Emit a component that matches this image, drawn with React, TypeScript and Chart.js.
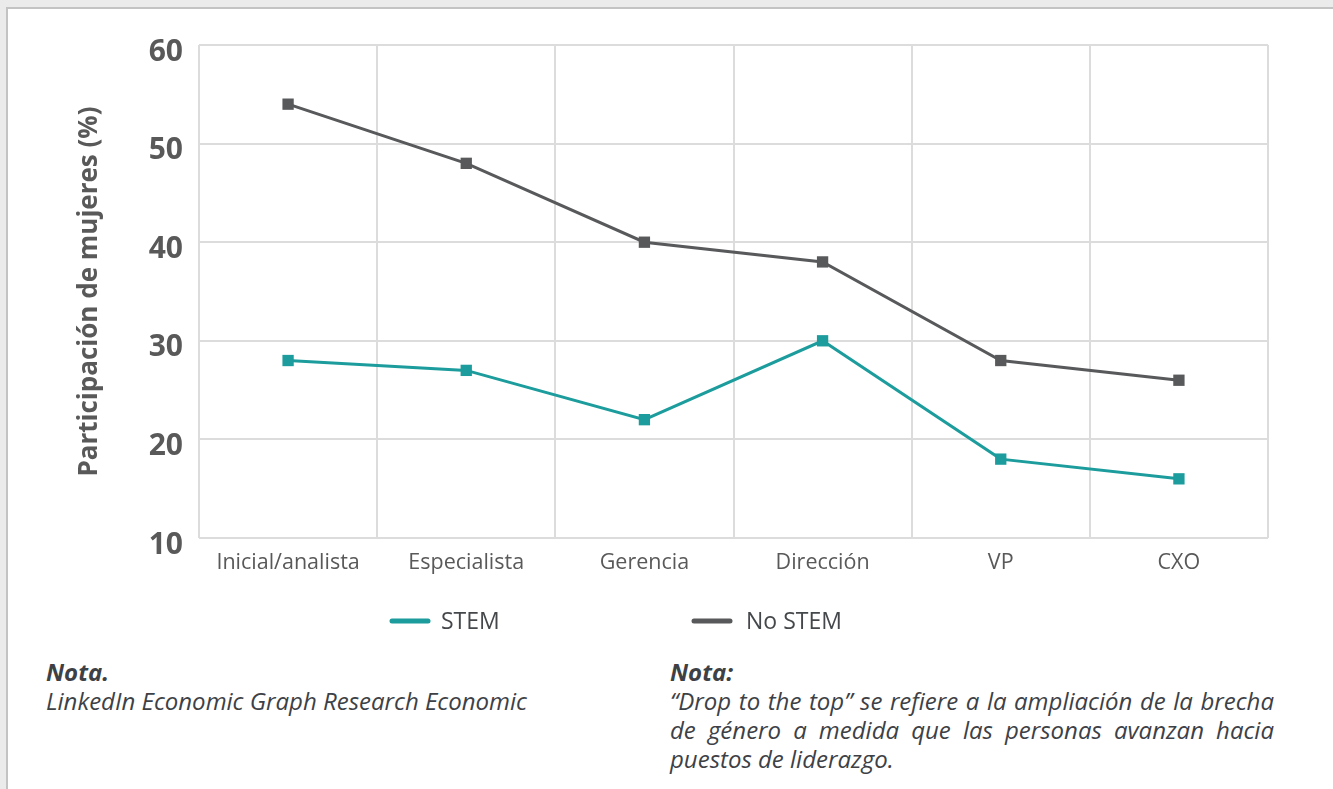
import React, { useEffect, useRef } from "react";
import { Chart, registerables } from "chart.js";

Chart.register(...registerables);

const categories = ["Inicial/analista", "Especialista", "Gerencia", "Dirección", "VP", "CXO"];
const stemValues = [28, 27, 22, 30, 18, 16];
const noStemValues = [54, 48, 40, 38, 28, 26];
const seriesLabels = ["STEM", "No STEM"];
const yTicks = [10, 20, 30, 40, 50, 60];
const yTitle = "Participación de mujeres (%)";

const TEAL = "#1c9c9c";
const GREY = "#58595b";
const FONT = "'Open Sans', 'Noto Sans', sans-serif";

const legendPlugin = {
  id: "customLegend",
  afterDraw(chart: any) {
    const ctx = chart.ctx;
    const y = chart.chartArea.bottom + 83;
    const positions = [390, 692];
    ctx.save();
    chart.data.datasets.forEach((ds: any, i: number) => {
      const x = positions[i];
      ctx.beginPath();
      ctx.lineCap = "round";
      ctx.lineWidth = 5;
      ctx.strokeStyle = ds.borderColor;
      ctx.moveTo(x + 2, y);
      ctx.lineTo(x + 38, y);
      ctx.stroke();
      ctx.font = `400 23px ${FONT}`;
      ctx.fillStyle = "#45484b";
      ctx.textBaseline = "middle";
      ctx.textAlign = "left";
      ctx.fillText(ds.label, x + 51 + (i === 1 ? 3 : 0), y + 1);
    });
    ctx.restore();
  },
};

function ChartCanvas() {
  const ref = useRef<HTMLCanvasElement>(null);
  useEffect(() => {
    if (!ref.current) return;
    const chart = new Chart(ref.current, {
      type: "line",
      data: {
        labels: categories,
        datasets: [
          {
            label: seriesLabels[0],
            data: stemValues,
            borderColor: TEAL,
            backgroundColor: TEAL,
            borderWidth: 3,
            pointStyle: "rect",
            pointRadius: 8,
            pointBorderWidth: 0,
            tension: 0,
          },
          {
            label: seriesLabels[1],
            data: noStemValues,
            borderColor: GREY,
            backgroundColor: GREY,
            borderWidth: 3,
            pointStyle: "rect",
            pointRadius: 8,
            pointBorderWidth: 0,
            tension: 0,
          },
        ],
      },
      options: {
        responsive: false,
        animation: false,
        devicePixelRatio: 1,
        layout: { padding: { left: 0, right: 65, top: 45, bottom: 72 } },
        plugins: {
          legend: { display: false },
          tooltip: { enabled: false },
        },
        scales: {
          x: {
            offset: true,
            grid: { offset: true, color: "#dcdcdc", lineWidth: 2, drawTicks: false },
            border: { display: false },
            ticks: {
              padding: 12,
              color: "#595959",
              font: { family: FONT, size: 21.5, weight: "400" },
            },
            afterFit: (s: any) => {
              s.height = 40;
            },
          },
          y: {
            min: 10,
            max: 60,
            afterBuildTicks: (s: any) => {
              s.ticks = yTicks.map((v) => ({ value: v }));
            },
            grid: { color: "#dcdcdc", lineWidth: 2, drawTicks: false },
            border: { display: false },
            ticks: {
              padding: 16,
              labelOffset: 7,
              color: "#595959",
              font: { family: FONT, size: 30, weight: "700" },
            },
            title: {
              display: true,
              text: yTitle,
              color: "#595959",
              font: { family: FONT, size: 26, weight: "700" },
              padding: { top: 74, bottom: 0 },
            },
            afterFit: (s: any) => {
              s.width = 199;
            },
          },
        },
      },
      plugins: [legendPlugin],
    } as any);
    return () => chart.destroy();
  }, []);
  return (
    <canvas
      ref={ref}
      width={1333}
      height={650}
      style={{ position: "absolute", left: 0, top: 0, width: 1333, height: 650 }}
    />
  );
}

export default function App() {
  const noteStyle: React.CSSProperties = {
    position: "absolute",
    fontFamily: FONT,
    fontStyle: "italic",
    fontSize: 24,
    lineHeight: "29px",
    color: "#3d4146",
  };
  return (
    <div
      style={{
        position: "absolute",
        left: 0,
        top: 0,
        width: 1333,
        height: 789,
        background: "#ebebeb",
        overflow: "hidden",
      }}
    >
      <div
        style={{
          position: "absolute",
          left: 6,
          top: 7,
          right: 0,
          bottom: 0,
          background: "#ffffff",
          borderTop: "2px solid #c3c3c3",
          borderLeft: "2px solid #c3c3c3",
        }}
      />
      <ChartCanvas />
      <div style={{ ...noteStyle, left: 46, top: 657, width: 600 }}>
        <div style={{ fontWeight: 700 }}>Nota.</div>
        <div>LinkedIn Economic Graph Research Economic</div>
      </div>
      <div style={{ ...noteStyle, left: 670, top: 657, width: 604, textAlign: "justify" }}>
        <div style={{ fontWeight: 700 }}>Nota:</div>
        <div>
          “Drop to the top” se refiere a la ampliación de la brecha de género a medida que las
          personas avanzan hacia puestos de liderazgo.
        </div>
      </div>
    </div>
  );
}
